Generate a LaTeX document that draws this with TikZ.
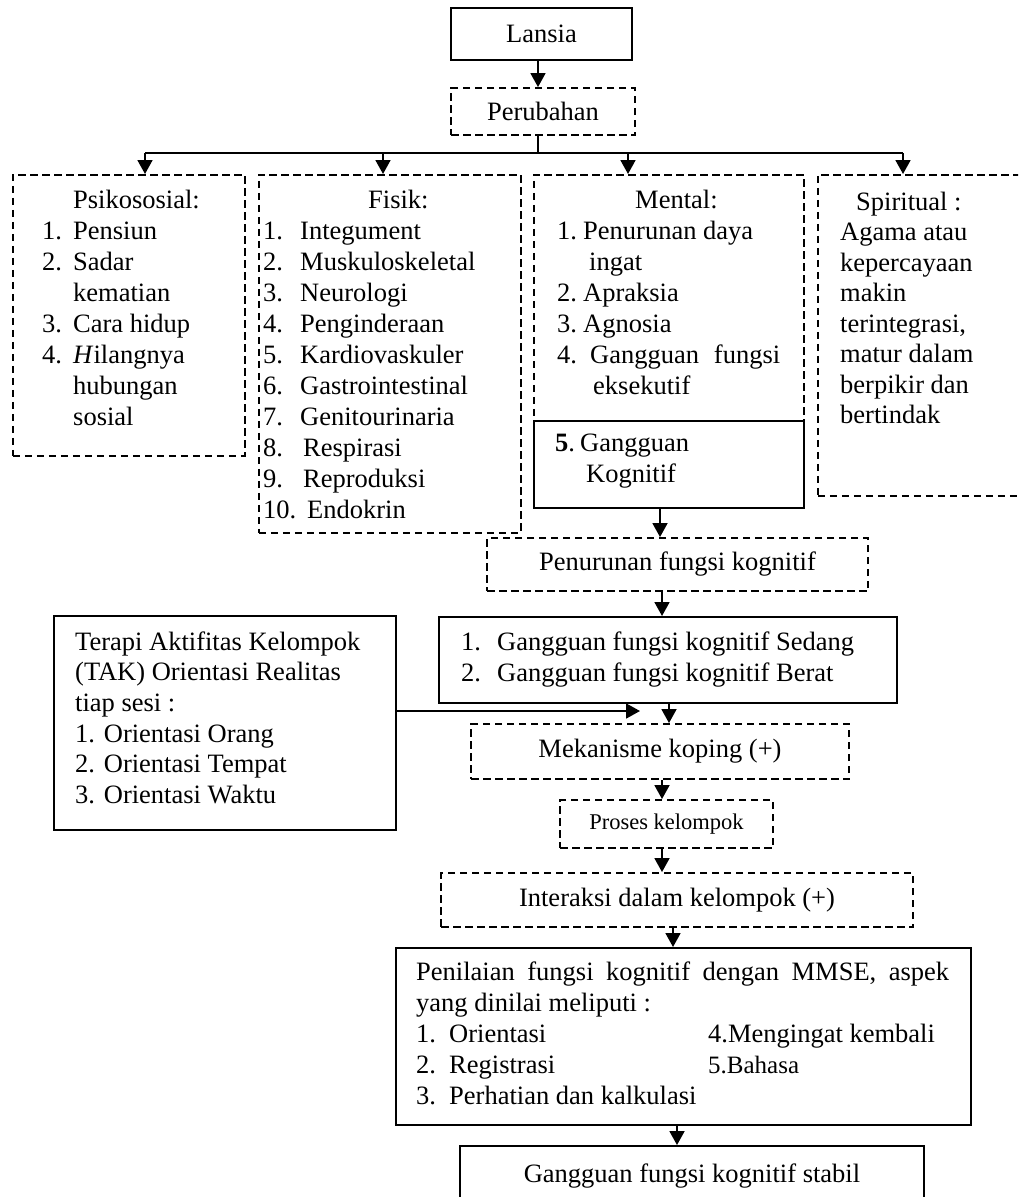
\documentclass[tikz,border=0pt]{standalone}
\usepackage{fontspec}
\setmainfont{Liberation Serif}
\usetikzlibrary{arrows.meta}
\newcommand\tf{\fontsize{26.5}{31}\selectfont}
\newcommand\nb[2]{\makebox[#1][l]{#2}}
\tikzset{
 sbox/.style={draw, line width=1.9pt, rectangle, inner sep=0pt, font=\tf},
 dbox/.style={sbox, dash pattern=on 7.5pt off 4.5pt},
 txt/.style={inner sep=0pt, anchor=north west, align=left, font=\tf},
 arr/.style={line width=1.8pt, -{Triangle[length=14pt,width=15pt]}},
 ln/.style={line width=1.8pt},
}
\begin{document}
\begin{tikzpicture}[x=1pt,y=-1pt]
\useasboundingbox (0,0) rectangle (1018,1197);
\clip (0,0) rectangle (1018,1197);
\fill[white] (0,0) rectangle (1018,1197);

% boxes
\node[sbox, minimum width=181pt, minimum height=52pt] (lansia) at (541.5,34) {Lansia};
\node[dbox, minimum width=184pt, minimum height=47pt] (perubahan) at (543,111.5) {Perubahan};
\node[dbox, anchor=north west, minimum width=232pt, minimum height=281pt] (psiko) at (12,174) {};
\node[dbox, anchor=north west, minimum width=262pt, minimum height=358pt] (fisik) at (258,174) {};
\node[dbox, anchor=north west, minimum width=270pt, minimum height=246pt] (mental) at (533,174) {};
\node[sbox, anchor=north west, minimum width=270pt, minimum height=87pt] (kog) at (533,420) {};
\node[dbox, anchor=north west, minimum width=205pt, minimum height=321pt] (spirit) at (817,174) {};
\node[dbox, minimum width=381pt, minimum height=53pt] (penurunan) at (677.5,564.5) {Penurunan fungsi kognitif};
\node[sbox, anchor=north west, minimum width=458pt, minimum height=86pt] (gfk) at (438,616) {};
\node[sbox, anchor=north west, minimum width=342pt, minimum height=214pt] (tak) at (53,615) {};
\node[dbox, minimum width=378pt, minimum height=55pt] (mek) at (660,751.5) {Mekanisme koping (+)};
\node[dbox, minimum width=213pt, minimum height=48pt, font=\fontsize{22.5}{26}\selectfont] (proses) at (666.5,824) {Proses kelompok};
\node[dbox, minimum width=472pt, minimum height=54pt] (inter) at (677,900) {Interaksi dalam kelompok (+)};
\node[sbox, anchor=north west, minimum width=575pt, minimum height=177pt] (nilai) at (395,947) {};
\node[sbox, minimum width=464pt, minimum height=60pt] (final) at (692,1176) {Gangguan fungsi kognitif stabil};

% texts
\node[txt] (tpsi) at (42,186.3) {\strut\hspace*{31pt}Psikososial:\\
\nb{31pt}{1.}Pensiun\\
\nb{31pt}{2.}Sadar\\
\hspace*{31pt}kematian\\
\nb{31pt}{3.}Cara hidup\\
\nb{31pt}{4.}\textit{H}ilangnya\\
\hspace*{31pt}hubungan\\
\hspace*{31pt}sosial};

\node[txt] (tfis) at (263,186.3) {\strut\hspace*{105pt}Fisik:\\
\nb{37pt}{1.}Integument\\
\nb{37pt}{2.}Muskuloskeletal\\
\nb{37pt}{3.}Neurologi\\
\nb{37pt}{4.}Penginderaan\\
\nb{37pt}{5.}Kardiovaskuler\\
\nb{37pt}{6.}Gastrointestinal\\
\nb{37pt}{7.}Genitourinaria\\
\nb{40pt}{8.}Respirasi\\
\nb{40pt}{9.}Reproduksi\\
\nb{44pt}{10.}Endokrin};

\node[txt] (tmen) at (557,186.3) {\strut\hspace*{78pt}Mental:\\
\nb{26pt}{1.}Penurunan daya\\
\hspace*{32pt}ingat\\
\nb{26pt}{2.}Apraksia\\
\nb{26pt}{3.}Agnosia\\
\nb{33pt}{4.}\makebox[190pt][s]{Gangguan fungsi}\\
\hspace*{36pt}eksekutif};

\node[txt] (tkog) at (555,429.3) {\strut\nb{25pt}{\textbf{5}.}Gangguan\\
\hspace*{31pt}Kognitif};

\node[txt, font=\fontsize{26.5}{30.5}\selectfont] (tspi) at (840,188.6) {\strut\hspace*{16pt}Spiritual :\\
Agama atau\\
kepercayaan\\
makin\\
terintegrasi,\\
matur dalam\\
berpikir dan\\
bertindak};

\node[txt, font=\fontsize{26.5}{30.6}\selectfont] (ttak) at (75,628.6) {\strut Terapi Aktifitas Kelompok\\
(TAK) Orientasi Realitas\\
tiap sesi :\\
1. Orientasi Orang\\
2. Orientasi Tempat\\
3. Orientasi Waktu};

\node[txt] (tgfk) at (461,628.3) {\strut\nb{36pt}{1.}Gangguan fungsi kognitif Sedang\\
\nb{36pt}{2.}Gangguan fungsi kognitif Berat};

\node[txt] (tnil) at (416,958.3) {\strut\makebox[533pt][s]{Penilaian fungsi kognitif dengan MMSE, aspek}\\
yang dinilai meliputi :\\
\nb{292pt}{\nb{33pt}{1.}Orientasi}4.Mengingat kembali\\
\nb{292pt}{\nb{33pt}{2.}Registrasi}{\fontsize{25}{31}\selectfont 5.Bahasa}\\
\nb{33pt}{3.}Perhatian dan kalkulasi};

% connectors
\coordinate (br) at (538,153);
\coordinate (bl) at (145,153);
\coordinate (brr) at (903,153);
\coordinate (b2) at (383,153);
\coordinate (b3) at (628,153);
\draw[arr] (lansia.south -| br) -- (perubahan.north -| br);
\draw[ln] (perubahan.south -| br) -- (br);
\draw[ln] (bl) -- (brr);
\draw[arr] (bl) -- (psiko.north -| bl);
\draw[arr] (b2) -- (fisik.north -| b2);
\draw[arr] (b3) -- (mental.north -| b3);
\draw[arr] (brr) -- (spirit.north -| brr);
\draw[arr] (kog.south -| 660,0) -- (penurunan.north -| 660,0);
\draw[arr] (penurunan.south -| 662,0) -- (gfk.north -| 662,0);
\draw[arr] (gfk.south -| 669,0) -- (mek.north -| 669,0);
\coordinate (takend) at (640,711);
\draw[arr] (tak.east |- takend) -- (takend);
\draw[arr] (mek.south -| 662,0) -- (proses.north -| 662,0);
\draw[arr] (proses.south -| 662,0) -- (inter.north -| 662,0);
\draw[arr] (inter.south -| 673,0) -- (nilai.north -| 673,0);
\draw[arr] (nilai.south -| 677,0) -- (final.north -| 677,0);
\end{tikzpicture}
\end{document}
